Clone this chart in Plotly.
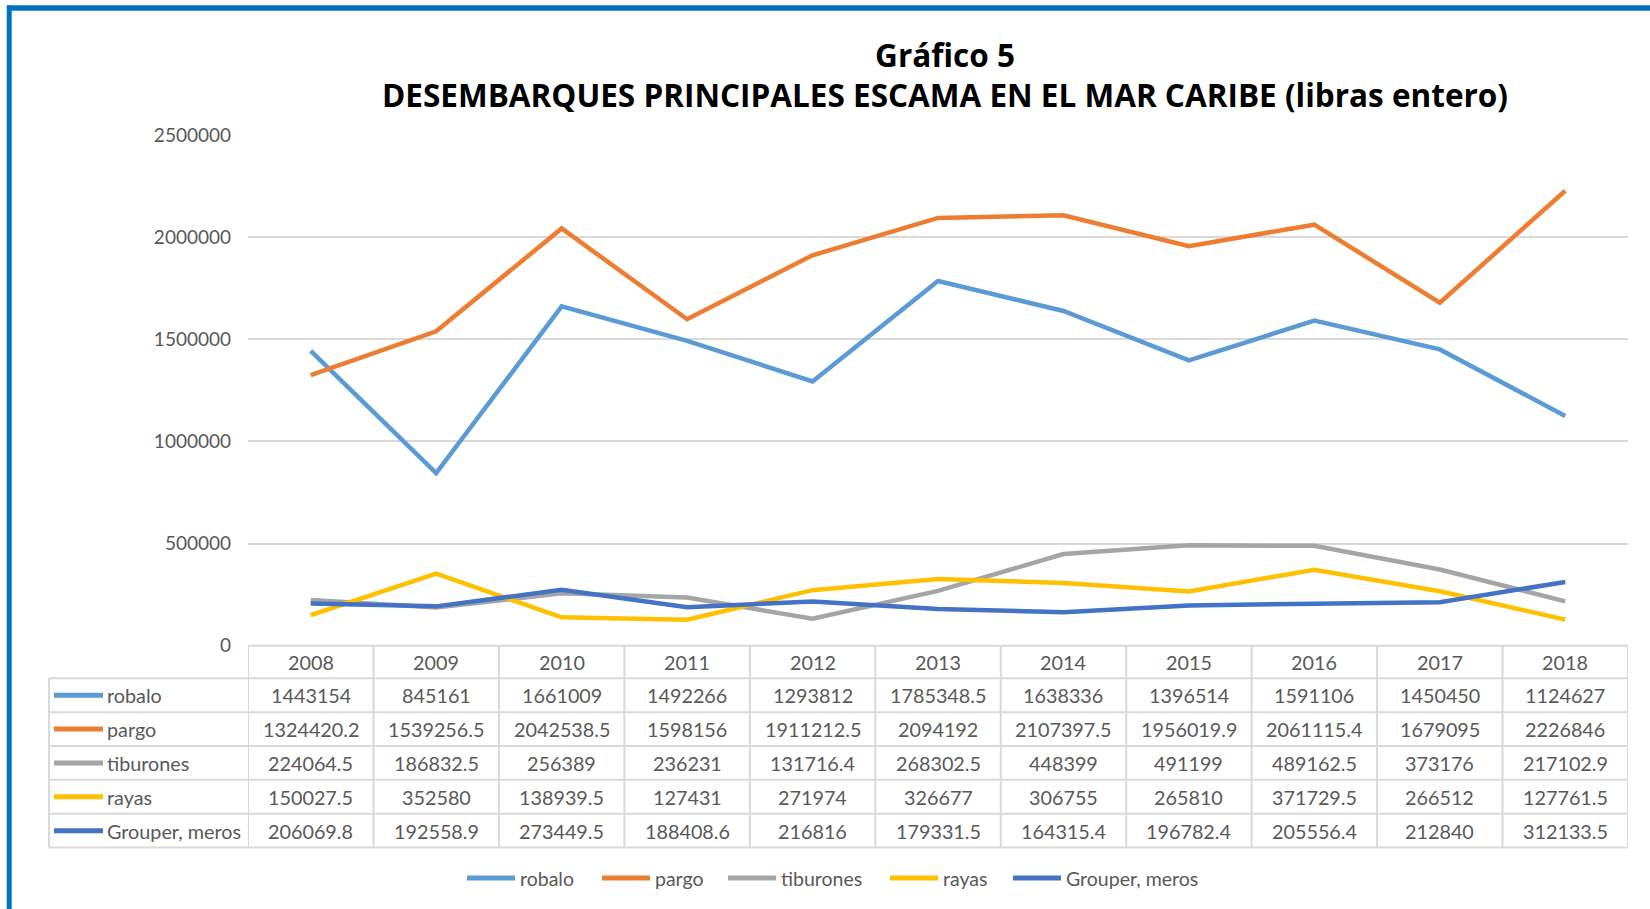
import plotly.graph_objects as go

years = ["2008", "2009", "2010", "2011", "2012", "2013", "2014", "2015", "2016", "2017", "2018"]
robalo = [1443154, 845161, 1661009, 1492266, 1293812, 1785348.5, 1638336, 1396514, 1591106, 1450450, 1124627]
pargo = [1324420.2, 1539256.5, 2042538.5, 1598156, 1911212.5, 2094192, 2107397.5, 1956019.9, 2061115.4, 1679095, 2226846]
tiburones = [224064.5, 186832.5, 256389, 236231, 131716.4, 268302.5, 448399, 491199, 489162.5, 373176, 217102.9]
rayas = [150027.5, 352580, 138939.5, 127431, 271974, 326677, 306755, 265810, 371729.5, 266512, 127761.5]
grouper = [206069.8, 192558.9, 273449.5, 188408.6, 216816, 179331.5, 164315.4, 196782.4, 205556.4, 212840, 312133.5]

series_names = ["robalo", "pargo", "tiburones", "rayas", "Grouper, meros"]
series_values = [robalo, pargo, tiburones, rayas, grouper]
series_colors = ["#5B9BD5", "#ED7D31", "#A5A5A5", "#FFC000", "#4472C4"]

title_line1 = "Gráfico 5"
title_line2 = "DESEMBARQUES PRINCIPALES ESCAMA EN EL MAR CARIBE (libras entero)"

W, H = 1650, 909
TXT = "#595959"
GRID = "#D9D9D9"
BODY_FONT = "Lato"
TABLE_SIZE = 19.8

# layout positions (pixels) for the legend entries at the bottom
legend_item_x = [467, 602, 728, 890, 1013]
legend_y = 878


def px(x):
    return x / W


def py(y):
    return 1 - y / H


def fmt(v):
    s = "%.1f" % v
    if s.endswith(".0"):
        s = s[:-2]
    return s


fig = go.Figure()
for name, vals, col in zip(series_names, series_values, series_colors):
    fig.add_trace(go.Scatter(
        x=list(range(len(years))), y=vals, name=name, mode="lines",
        line=dict(color=col, width=4.5), showlegend=False,
    ))

shapes = []
annotations = []

# outer blue frame (top and left)
shapes.append(dict(type="line", xref="paper", yref="paper", x0=px(7), x1=1.0, y0=py(8), y1=py(8),
                   line=dict(color="#0070C0", width=5.5)))
shapes.append(dict(type="line", xref="paper", yref="paper", x0=px(9.2), x1=px(9.2), y0=py(5.5), y1=0,
                   line=dict(color="#0070C0", width=5)))

# data table
row_top = 645.7
header_bottom = 678.3
row_h = 33.85
n_rows = len(series_names)
table_left = 49
plot_left = 248
plot_right = 1628
bottom = header_bottom + n_rows * row_h

shapes.append(dict(type="line", xref="paper", yref="paper", x0=px(plot_left), x1=px(plot_right),
                   y0=py(row_top), y1=py(row_top), line=dict(color=GRID, width=2)))
for r in range(n_rows + 1):
    yy = header_bottom + r * row_h
    shapes.append(dict(type="line", xref="paper", yref="paper", x0=px(table_left), x1=px(plot_right),
                       y0=py(yy), y1=py(yy), line=dict(color=GRID, width=2)))
shapes.append(dict(type="line", xref="paper", yref="paper", x0=px(table_left), x1=px(table_left),
                   y0=py(header_bottom), y1=py(bottom), line=dict(color=GRID, width=2)))
for i in range(len(years) + 1):
    shapes.append(dict(type="line", xref="x", yref="paper", x0=i - 0.5, x1=i - 0.5,
                       y0=py(row_top), y1=py(bottom), line=dict(color=GRID, width=2)))

for i, yr in enumerate(years):
    annotations.append(dict(x=i, xref="x", y=py((row_top + header_bottom) / 2), yref="paper",
                            text=yr, showarrow=False, xanchor="center", yanchor="middle",
                            font=dict(family=BODY_FONT, size=TABLE_SIZE, color=TXT)))

for r, (name, vals, col) in enumerate(zip(series_names, series_values, series_colors)):
    yc = header_bottom + (r + 0.5) * row_h
    shapes.append(dict(type="line", xref="paper", yref="paper", x0=px(54), x1=px(103),
                       y0=py(yc), y1=py(yc), line=dict(color=col, width=5)))
    annotations.append(dict(x=px(105), xref="paper", y=py(yc), yref="paper", text=name,
                            showarrow=False, xanchor="left", yanchor="middle",
                            font=dict(family=BODY_FONT, size=TABLE_SIZE, color=TXT)))
    for i, v in enumerate(vals):
        annotations.append(dict(x=i, xref="x", y=py(yc), yref="paper", text=fmt(v),
                                showarrow=False, xanchor="center", yanchor="middle",
                                font=dict(family=BODY_FONT, size=TABLE_SIZE, color=TXT)))

# legend at the bottom
for name, col, lx in zip(series_names, series_colors, legend_item_x):
    shapes.append(dict(type="line", xref="paper", yref="paper", x0=px(lx), x1=px(lx + 48),
                       y0=py(legend_y), y1=py(legend_y), line=dict(color=col, width=5)))
    annotations.append(dict(x=px(lx + 51), xref="paper", y=py(legend_y), yref="paper", text=name,
                            showarrow=False, xanchor="left", yanchor="middle",
                            font=dict(family=BODY_FONT, size=19.5, color=TXT)))

fig.update_layout(
    width=W, height=H,
    margin=dict(l=0, r=0, t=0, b=0, autoexpand=False),
    paper_bgcolor="white", plot_bgcolor="white",
    title=dict(text="<b>" + title_line1 + "</b><br><b>" + title_line2 + "</b>",
               x=px(945), xanchor="center", xref="paper",
               y=py(66.5), yanchor="middle", yref="paper",
               font=dict(family="Open Sans", size=31.5, color="#000000")),
    xaxis=dict(domain=[px(plot_left), px(plot_right)], range=[-0.5, len(years) - 0.5],
               showticklabels=False, showgrid=False, zeroline=False, showline=False),
    yaxis=dict(domain=[py(row_top), py(135)], range=[0, 2500000], dtick=500000,
               tickformat="d", showgrid=True, gridcolor=GRID, gridwidth=2,
               zeroline=False, showline=False, ticks="", ticklabelstandoff=16,
               tickfont=dict(family=BODY_FONT, size=19, color=TXT)),
    shapes=shapes,
    annotations=annotations,
    showlegend=False,
)

fig.write_html("out.html", post_script="document.body.style.margin='0';",
               config={"displayModeBar": False})
